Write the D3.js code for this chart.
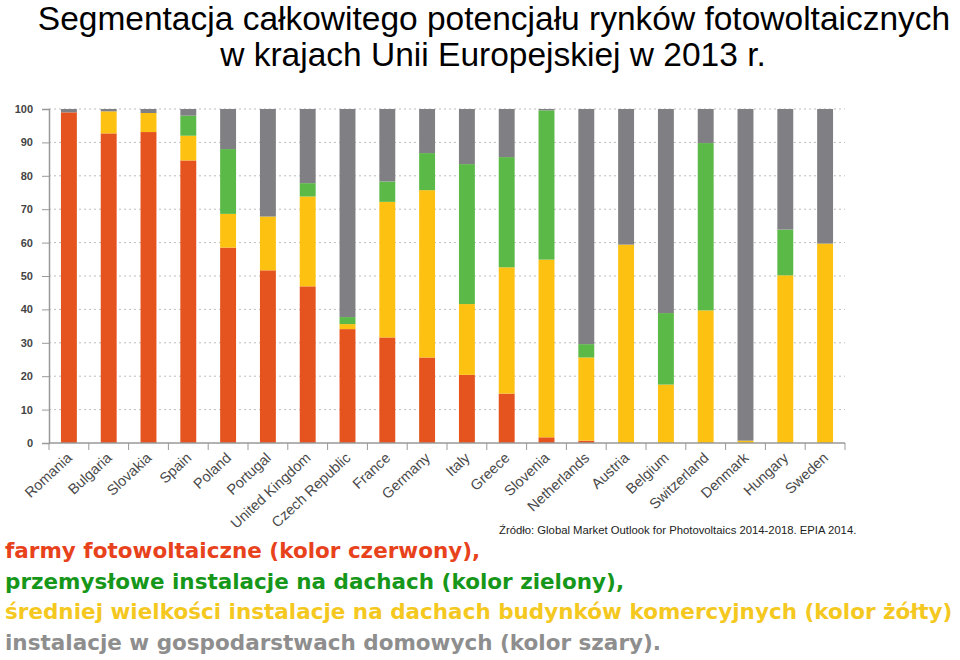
<!DOCTYPE html>
<html>
<head>
<meta charset="utf-8">
<script src="https://cdn.jsdelivr.net/npm/d3@7"></script>
<style>
  body { margin: 0; background: #fff; }
  svg { display: block; }
</style>
</head>
<body>
<svg id="chart" width="960" height="660"></svg>
<script>
var countries = ["Romania", "Bulgaria", "Slovakia", "Spain", "Poland", "Portugal",
    "United Kingdom", "Czech Republic", "France", "Germany", "Italy", "Greece",
    "Slovenia", "Netherlands", "Austria", "Belgium", "Switzerland", "Denmark",
    "Hungary", "Sweden"]
// udział segmentów w %
var farms      = [99, 92.7, 93.1, 84.6, 58.5, 51.7, 46.9, 34.1, 31.6, 25.6, 20.4, 14.8, 1.7, 0.7, 0, 0, 0, 0, 0, 0]
var commercial = [0, 6.6, 5.7, 7.4, 10.1, 16.1, 26.9, 1.5, 40.6, 50.1, 21.2, 37.8, 53.2, 24.9, 59.4, 17.5, 39.7, 0.7, 50.2, 59.7]
var industrial = [0, 0, 0, 6, 19.4, 0, 4, 2.1, 6.1, 11.1, 41.9, 33, 44.7, 4, 0, 21.4, 50.1, 0, 13.7, 0]
var household  = [1, 0.7, 1.2, 2, 12, 32.2, 22.2, 62.3, 21.7, 13.2, 16.5, 14.4, 0.4, 70.4, 40.6, 61.1, 10.2, 99.3, 36.1, 40.3]
var yTicks = [0, 10, 20, 30, 40, 50, 60, 70, 80, 90, 100]

var keys = ["farms", "commercial", "industrial", "household"]
var colors = { farms: "#E5541F", commercial: "#FDC111", industrial: "#5BB947", household: "#808084" }

var rows = countries.map(function (c, i) {
    return { country: c, farms: farms[i], commercial: commercial[i], industrial: industrial[i], household: household[i] }
})

var svg = d3.select("#chart")

var x = d3.scaleBand()
    .domain(countries)
    .range([49, 845])
    .paddingInner(0.6)
    .paddingOuter(0.3)

var y = d3.scaleLinear()
    .domain([0, 100])
    .range([443, 109])

// title
var title = svg.append("text")
    .attr("text-anchor", "middle")
    .style("font-family", "Liberation Sans, Arial, sans-serif")
    .style("font-size", "33.5px")
    .style("fill", "#000")
title.append("tspan").attr("x", 494).attr("y", 30).text("Segmentacja całkowitego potencjału rynków fotowoltaicznych")
title.append("tspan").attr("x", 493).attr("y", 66).text("w krajach Unii Europejskiej w 2013 r.")

// grid
svg.append("g")
    .selectAll("line")
    .data(yTicks.slice(1))
    .enter()
    .append("line")
    .attr("x1", 49)
    .attr("x2", 845)
    .attr("y1", function (d) { return y(d) })
    .attr("y2", function (d) { return y(d) })
    .attr("stroke", "#bdbdbd")
    .attr("stroke-width", 1)
    .attr("stroke-dasharray", "2,3")

// bars
var series = d3.stack().keys(keys)(rows)

svg.append("g")
    .selectAll("g")
    .data(series)
    .enter()
    .append("g")
    .attr("fill", function (d) { return colors[d.key] })
    .selectAll("rect")
    .data(function (d) { return d })
    .enter()
    .append("rect")
    .attr("x", function (d) { return x(d.data.country) })
    .attr("width", x.bandwidth())
    .attr("y", function (d) { return y(d[1]) })
    .attr("height", function (d) { return y(d[0]) - y(d[1]) })

// y axis
var yAxis = d3.axisLeft(y)
    .tickValues(yTicks)
    .tickSize(7)
    .tickPadding(9)

var gy = svg.append("g")
    .attr("transform", "translate(49,0)")
    .call(yAxis)
gy.select(".domain").attr("stroke", "#999").attr("stroke-width", 1.5)
gy.selectAll(".tick line").attr("stroke", "#999")
gy.selectAll("text")
    .style("font-family", "Liberation Sans, Arial, sans-serif")
    .style("font-size", "11px")
    .style("font-weight", "bold")
    .style("fill", "#444")

// x axis
var gx = svg.append("g")
    .attr("transform", "translate(0,443)")
gx.append("line")
    .attr("x1", 49).attr("x2", 845)
    .attr("stroke", "#999").attr("stroke-width", 1.5)
gx.selectAll(".xt")
    .data(d3.range(countries.length + 1))
    .enter()
    .append("line")
    .attr("class", "xt")
    .attr("x1", function (i) { return 49 + i * (796 / countries.length) })
    .attr("x2", function (i) { return 49 + i * (796 / countries.length) })
    .attr("y1", 0)
    .attr("y2", 7)
    .attr("stroke", "#999")

gx.selectAll(".xl")
    .data(countries)
    .enter()
    .append("text")
    .attr("class", "xl")
    .attr("transform", function (d) {
        return "translate(" + (x(d) + x.bandwidth() / 2 + 4) + ",16) rotate(-43)"
    })
    .attr("text-anchor", "end")
    .style("font-family", "Liberation Sans, Arial, sans-serif")
    .style("font-size", "14.5px")
    .style("fill", "#4a4a4a")
    .text(function (d) { return d })

// source
svg.append("text")
    .attr("x", 499)
    .attr("y", 534)
    .style("font-family", "Liberation Sans, Arial, sans-serif")
    .style("font-size", "11.3px")
    .style("fill", "#222")
    .text("Źródło: Global Market Outlook for Photovoltaics 2014-2018. EPIA 2014.")

// legend text
var legendLines = [
    { t: "farmy fotowoltaiczne (kolor czerwony),", c: "#E8421C" },
    { t: "przemysłowe instalacje na dachach (kolor zielony),", c: "#17971A" },
    { t: "średniej wielkości instalacje na dachach budynków komercyjnych (kolor żółty)", c: "#F4C81E" },
    { t: "instalacje w gospodarstwach domowych (kolor szary).", c: "#8E8E8E" }
]
svg.selectAll(".leg")
    .data(legendLines)
    .enter()
    .append("text")
    .attr("class", "leg")
    .attr("x", 5)
    .attr("y", function (d, i) { return 558 + i * 30.5 })
    .style("font-family", "DejaVu Sans, Verdana, sans-serif")
    .style("font-size", "21.5px")
    .style("font-weight", "bold")
    .style("fill", function (d) { return d.c })
    .text(function (d) { return d.t })
</script>
</body>
</html>
